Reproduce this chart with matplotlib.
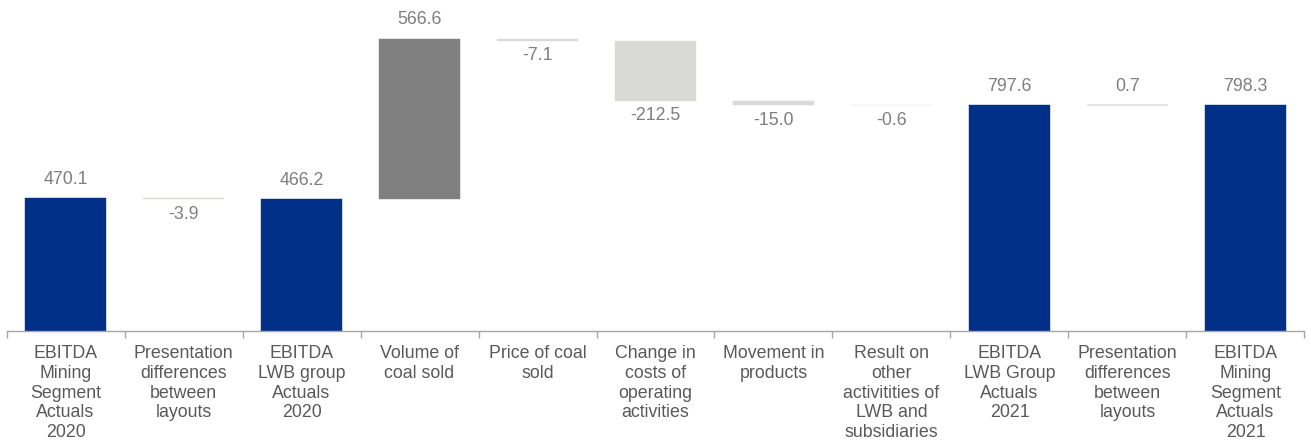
import matplotlib
matplotlib.use("Agg")
import matplotlib.pyplot as plt
import numpy as np

plt.rcParams['font.family'] = ['Liberation Sans', 'DejaVu Sans']

# categories and values
categories = [
    "EBITDA\nMining\nSegment\nActuals\n2020",
    "Presentation\ndifferences\nbetween\nlayouts",
    "EBITDA\nLWB group\nActuals\n2020",
    "Volume of\ncoal sold",
    "Price of coal\nsold",
    "Change in\ncosts of\noperating\nactivities",
    "Movement in\nproducts",
    "Result on\nother\nactivitities of\nLWB and\nsubsidiaries",
    "EBITDA\nLWB Group\nActuals\n2021",
    "Presentation\ndifferences\nbetween\nlayouts",
    "EBITDA\nMining\nSegment\nActuals\n2021",
]
values = [470.1, -3.9, 466.2, 566.6, -7.1, -212.5, -15.0, -0.6, 797.6, 0.7, 798.3]
is_total = [True, False, True, False, False, False, False, False, True, False, True]

c_total = "#003087"
c_up = "#808080"
c_down = "#d9d9d6"
c_text = "#7f7f7f"
c_tick = "#595959"

# work out bar bottoms for the waterfall
bottoms = []
colors = []
running = 0.0
for v, t in zip(values, is_total):
    if t:
        bottoms.append(0.0)
        colors.append(c_total)
        running = v
    else:
        if v >= 0:
            bottoms.append(running)
            colors.append(c_up)
        else:
            bottoms.append(running + v)
            colors.append(c_down)
        running = running + v
heights = [abs(v) for v in values]

fig = plt.figure(figsize=(13.11, 4.47), dpi=100)
ax = fig.add_axes([0.005, 0.2595, 0.99, 0.7405])

x = np.arange(len(values))
ax.bar(x, heights, bottom=bottoms, width=0.69, color=colors,
       edgecolor=colors, linewidth=0.3)

# value labels
for i, (v, t, b, h) in enumerate(zip(values, is_total, bottoms, heights)):
    if t or v >= 0:
        ax.annotate(f"{v:.1f}", (i, b + h), xytext=(0, 19), textcoords="offset pixels",
                    ha="center", va="center", fontsize=12.8, color=c_text)
    else:
        ax.annotate(f"{v:.1f}", (i, b), xytext=(0, -15), textcoords="offset pixels",
                    ha="center", va="center", fontsize=12.8, color=c_text)

ax.set_xlim(-0.5, len(values) - 0.5)
ax.set_ylim(0, 1170)

for s in ["top", "right", "left"]:
    ax.spines[s].set_visible(False)
ax.spines["bottom"].set_color("#a6a6a6")
ax.spines["bottom"].set_linewidth(1.0)
ax.set_yticks([])

ax.set_xticks(x)
ax.set_xticklabels(categories, fontsize=12.8, color=c_tick, linespacing=1.22)
ax.tick_params(axis="x", which="major", length=0, pad=10)
ax.set_xticks(np.arange(len(values) + 1) - 0.5, minor=True)
ax.tick_params(axis="x", which="minor", length=5, color="#a6a6a6", width=1.0)

fig.savefig("out.png", dpi=100)
